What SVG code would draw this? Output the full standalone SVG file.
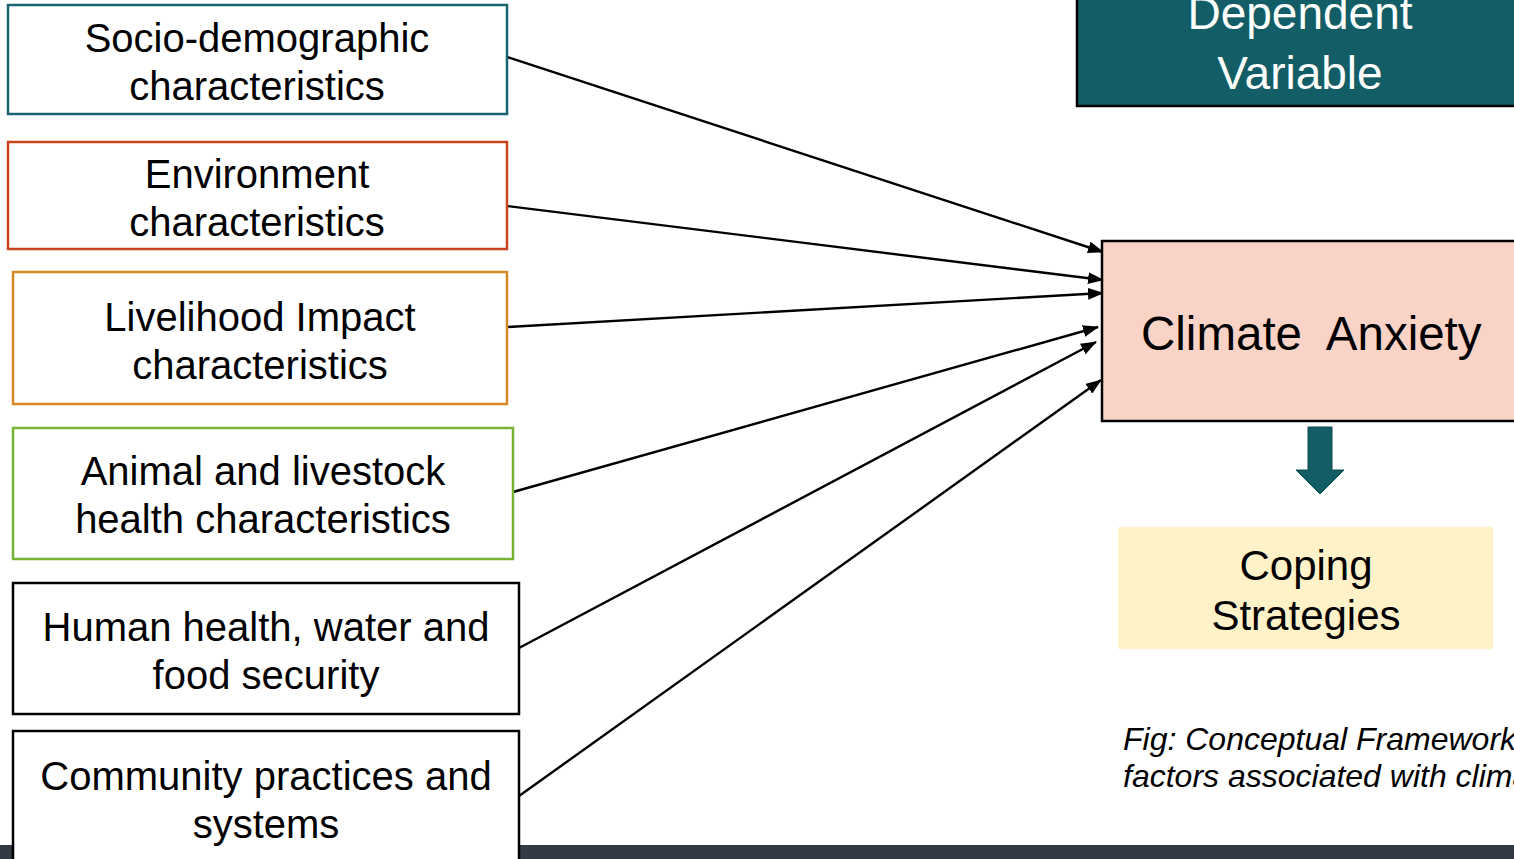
<svg xmlns="http://www.w3.org/2000/svg" width="1514" height="859" viewBox="0 0 1514 859">
  <style>
    .lbl { font-family: "Liberation Sans", Arial, sans-serif; font-size: 40px; fill: #000; text-anchor: middle; }
    .box { fill: #fff; stroke-width: 2.5; }
    .conn { stroke: #000; stroke-width: 2.4; fill: none; marker-end: url(#tip); }
  </style>
  <defs>
    <marker id="tip" viewBox="0 0 16 12" refX="15" refY="6" markerWidth="16" markerHeight="12" markerUnits="userSpaceOnUse" orient="auto">
      <path d="M0,0 L16,6 L0,12 Z" fill="#000"/>
    </marker>
  </defs>

  <rect x="0" y="0" width="1514" height="859" fill="#fff"/>
  <!-- footer band -->
  <rect x="0" y="845" width="1514" height="14" fill="#323a44"/>

  <!-- connectors -->
  <g id="connectors">
    <line class="conn" x1="507" y1="57" x2="1103" y2="252"/>
    <line class="conn" x1="507" y1="206" x2="1103" y2="280"/>
    <line class="conn" x1="507" y1="327" x2="1103" y2="293"/>
    <line class="conn" x1="513" y1="492" x2="1098" y2="327"/>
    <line class="conn" x1="519" y1="648" x2="1096" y2="342"/>
    <line class="conn" x1="519" y1="796" x2="1101" y2="380"/>
  </g>

  <g id="socio">
    <rect class="box" x="8" y="5" width="499" height="109" stroke="#1a6470"/>
    <text class="lbl" x="257" y="52">Socio-demographic</text>
    <text class="lbl" x="257" y="100">characteristics</text>
  </g>
  <g id="environment">
    <rect class="box" x="8" y="142" width="499" height="107" stroke="#c9431d"/>
    <text class="lbl" x="257" y="188">Environment</text>
    <text class="lbl" x="257" y="236">characteristics</text>
  </g>
  <g id="livelihood">
    <rect class="box" x="13" y="272" width="494" height="132" stroke="#d68a26"/>
    <text class="lbl" x="260" y="331">Livelihood Impact</text>
    <text class="lbl" x="260" y="379">characteristics</text>
  </g>
  <g id="animal">
    <rect class="box" x="13" y="428" width="500" height="131" stroke="#76b236"/>
    <text class="lbl" x="263" y="485">Animal and livestock</text>
    <text class="lbl" x="263" y="533">health characteristics</text>
  </g>
  <g id="human">
    <rect class="box" x="13" y="583" width="506" height="131" stroke="#000"/>
    <text class="lbl" x="266" y="641">Human health, water and</text>
    <text class="lbl" x="266" y="689">food security</text>
  </g>
  <g id="community">
    <rect class="box" x="13" y="731" width="506" height="140" stroke="#000"/>
    <text class="lbl" x="266" y="790">Community practices and</text>
    <text class="lbl" x="266" y="838">systems</text>
  </g>

  <g id="dependent">
    <rect x="1077" y="-10" width="450" height="116" fill="#135e66" stroke="#000" stroke-width="2.5"/>
    <text class="lbl" x="1300" y="29" style="fill:#fff;font-size:46px">Dependent</text>
    <text class="lbl" x="1300" y="89" style="fill:#fff;font-size:46px">Variable</text>
  </g>

  <g id="anxiety">
    <rect x="1102" y="241" width="425" height="180" fill="#f9d3c6" stroke="#000" stroke-width="2.5"/>
    <text class="lbl" x="1141" y="350" xml:space="preserve" style="font-size:47.5px;text-anchor:start">Climate  Anxiety</text>
  </g>

  <g id="down-arrow">
    <path d="M1308,427 L1332,427 L1332,470 L1344,470 L1320,494 L1296,470 L1308,470 Z" fill="#135e66" stroke="#0e4b52" stroke-width="1"/>
  </g>

  <g id="coping">
    <rect x="1118" y="527" width="375" height="122" fill="#fff2c9"/>
    <text class="lbl" x="1306" y="580" style="font-size:42px">Coping</text>
    <text class="lbl" x="1306" y="630" style="font-size:42px">Strategies</text>
  </g>

  <g id="caption" font-family="Liberation Sans, Arial, sans-serif" font-size="32" font-style="italic" fill="#000">
    <text x="1123" y="750">Fig: Conceptual Framework</text>
    <text x="1123" y="787">factors associated with climate</text>
  </g>
</svg>
